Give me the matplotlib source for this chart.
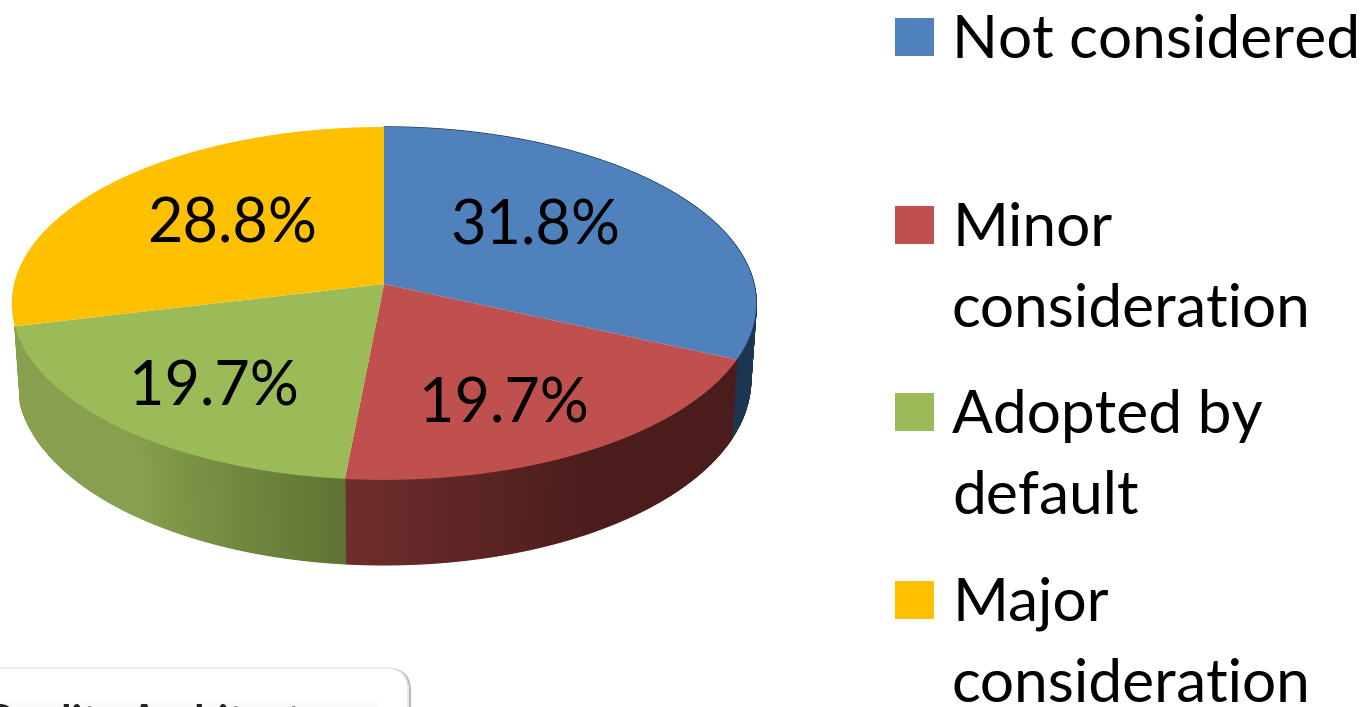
# pie with fake 3d side, same look as the office chart
import matplotlib
matplotlib.use('Agg')
import matplotlib.pyplot as plt
from matplotlib.colors import to_rgb
from matplotlib.patches import FancyBboxPatch, Rectangle, Polygon
import numpy as np

categories = ['Not considered', 'Minor\nconsideration', 'Adopted by\ndefault', 'Major\nconsideration']
values = [31.8, 19.7, 19.7, 28.8]
labels = ['31.8%', '19.7%', '19.7%', '28.8%']
colors = ['#4f81bd', '#c0504d', '#9bbb59', '#ffc000']
# side wall colours, going clockwise through each slice
side_start = ['#1f3a57', '#4a1d1c', '#5f7333', '#ffc000']
side_end = ['#1c3550', '#702d2d', '#879f4e', '#ffc000']
side_from = [0.0, 0.5, 0.0, 0.0]
side_to = [1.0, 1.0, 0.45, 1.0]

plt.rcParams['font.family'] = ['Lato', 'DejaVu Sans']

fig = plt.figure(figsize=(13.63, 7.07), dpi=100)
ax = fig.add_axes([0, 0, 1, 1])
ax.set_xlim(0, 1363)
ax.set_ylim(707, 0)
ax.axis('off')

cx, cy = 384, 284
rx, ry = 370, 174.3
k = 0.11
depth = 75.6


def project(ang):
    x, y = np.cos(ang), np.sin(ang)
    w = 1 + k * y
    return cx + rx * x / w, cy - ry * y / w, w


total = sum(values)
starts = np.pi / 2 - 2 * np.pi * np.cumsum([0] + values[:-1]) / total
ends = np.pi / 2 - 2 * np.pi * np.cumsum(values) / total

# side wall first, top faces cover the back part
for i in range(3):
    angs = np.linspace(starts[i], ends[i], 160)
    c0, c1 = np.array(to_rgb(side_start[i])), np.array(to_rgb(side_end[i]))
    for j in range(len(angs) - 1):
        xa, ya, wa = project(angs[j])
        xb, yb, wb = project(angs[j + 1])
        t = np.clip((j / 159 - side_from[i]) / (side_to[i] - side_from[i]), 0, 1)
        col = c0 + (c1 - c0) * t
        quad = [(xa, ya), (xb, yb),
                (cx + (xb - cx) * 0.985, yb + depth / wb),
                (cx + (xa - cx) * 0.985, ya + depth / wa)]
        ax.add_patch(Polygon(quad, closed=True, fc=col, ec=col, lw=1.0, zorder=1))

# top faces
for i in range(len(values)):
    angs = np.linspace(starts[i], ends[i], 200)
    xs, ys, _ = project(angs)
    pts = [(cx, cy)] + list(zip(xs, ys))
    ax.add_patch(Polygon(pts, closed=True, fc=colors[i], ec='none', zorder=2))

label_xy = [(535, 227), (504, 405), (214, 388), (232, 225)]
for (lx, ly), lab in zip(label_xy, labels):
    ax.text(lx, ly, lab, fontsize=44, color='black', ha='center', va='center', zorder=3)

# legend
legend_y = [37, 225, 412, 600]
for name, col, ly in zip(categories, colors, legend_y):
    ax.add_patch(Rectangle((895, ly - 19), 39, 38, fc=col, ec='none', zorder=3))
    lines = name.split('\n')
    for n, line in enumerate(lines):
        ax.text(952, ly + 4 + n * 81, line, fontsize=43.5, color='black', ha='left', va='center', zorder=3)

# card cut off at the bottom left
shadow = FancyBboxPatch((-30, 669), 440, 80, boxstyle='round,pad=0,rounding_size=22',
                        fc='none', ec='#bbbbbb', lw=1.5, zorder=1)
ax.add_patch(shadow)
card = FancyBboxPatch((-30, 668), 438, 80, boxstyle='round,pad=0,rounding_size=22',
                      fc='white', ec='#e2e2e2', lw=1.0, zorder=1)
ax.add_patch(card)
ax.add_patch(Rectangle((0, 700), 378, 7, fc='#fafafa', ec='none', zorder=1))
ax.text(-17, 704, 'Quality Architect', fontsize=30, fontweight='bold', color='#222222',
        ha='left', va='top', zorder=2)

fig.savefig('out.png', dpi=100)
